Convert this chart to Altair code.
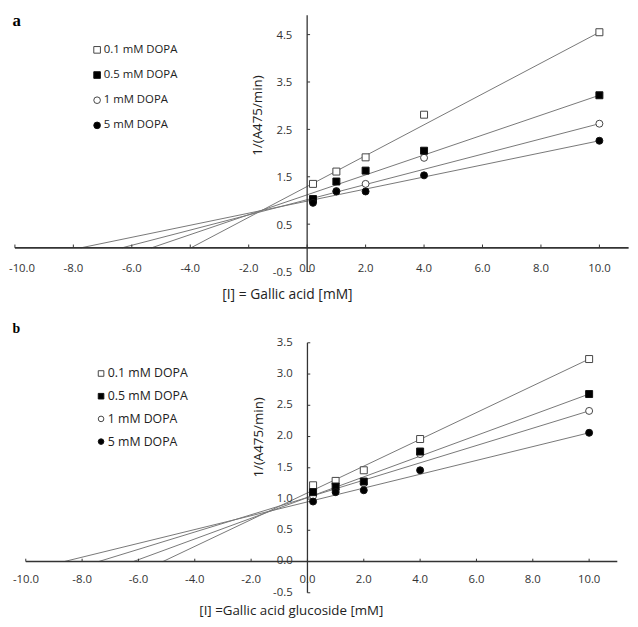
import altair as alt
import pandas as pd

# ---------------- data ----------------
CONC = ["0.1 mM DOPA", "0.5 mM DOPA", "1 mM DOPA", "5 mM DOPA"]
X_VALS = [0.2, 1, 2, 4, 10]

# panel a : Gallic acid
A_01 = [1.35, 1.61, 1.91, 2.81, 4.55]
A_05 = [1.03, 1.40, 1.63, 2.05, 3.22]
A_1 = [1.00, 1.20, 1.35, 1.90, 2.62]
A_5 = [0.95, 1.19, 1.19, 1.53, 2.26]
A_XINT = [-3.98, -5.33, -6.34, -7.75]   # x where each fitted line meets y = 0
A_Y10 = [4.55, 3.22, 2.62, 2.26]        # fitted line value at x = 10

# panel b : Gallic acid glucoside
B_01 = [1.22, 1.29, 1.46, 1.96, 3.24]
B_05 = [1.11, 1.20, 1.28, 1.76, 2.68]
B_1 = [1.05, 1.14, 1.25, 1.72, 2.41]
B_5 = [0.96, 1.11, 1.14, 1.46, 2.06]
B_XINT = [-5.13, -6.18, -7.41, -8.63]
B_Y10 = [3.24, 2.68, 2.41, 2.06]

X_TICKS = [-10, -8, -6, -4, -2, 0, 2, 4, 6, 8, 10]
X_TICK_LABELS = ["-10.0", "-8.0", "-6.0", "-4.0", "-2.0", "0.0", "2.0", "4.0", "6.0", "8.0", "10.0"]
A_Y_TICKS = [-0.5, 0.5, 1.5, 2.5, 3.5, 4.5]
A_Y_LABELS = ["-0.5", "0.5", "1.5", "2.5", "3.5", "4.5"]
B_Y_TICKS = [-0.5, 0.0, 0.5, 1.0, 1.5, 2.0, 2.5, 3.0, 3.5]
B_Y_LABELS = ["-0.5", "0.0", "0.5", "1.0", "1.5", "2.0", "2.5", "3.0", "3.5"]

FONT = "Open Sans"
TXT = "#333333"
LINE = "#777777"
AXIS = "#333333"
W = 630


def panel(letter, series, xint, y10, yticks, ylabels, y_top, x_title, g, leg):
    # scale domains from pixel geometry of the reference
    xmin = -g["x0"] / g["xpu"]
    xmax = (W - g["x0"]) / g["xpu"]
    ymax = g["y0"] / g["ypu"]
    ymin = (g["y0"] - g["H"]) / g["ypu"]
    sx = alt.Scale(domain=[xmin, xmax], nice=False, zero=False)
    sy = alt.Scale(domain=[ymin, ymax], nice=False, zero=False)

    def X(f):
        return alt.X(f, type="quantitative", scale=sx, axis=None)

    def Y(f):
        return alt.Y(f, type="quantitative", scale=sy, axis=None)

    def XD(v):
        return alt.X(datum=v, type="quantitative", scale=sx, axis=None)

    def YD(v):
        return alt.Y(datum=v, type="quantitative", scale=sy, axis=None)

    one = pd.DataFrame({"k": [0]})

    # points (1 mM drawn first so it sits underneath)
    order = [2, 0, 1, 3]
    rows = []
    for i in order:
        for xv, yv in zip(X_VALS, series[i]):
            rows.append({"conc": CONC[i], "x": xv, "y": yv})
    pts = pd.DataFrame(rows)

    fit = pd.DataFrame({"conc": CONC, "xint": xint, "y10": y10})

    xt = pd.DataFrame({"v": X_TICKS, "lab": X_TICK_LABELS})
    yt = pd.DataFrame({"v": yticks, "lab": ylabels})

    fits = alt.Chart(fit).mark_rule(color=LINE, strokeWidth=1).transform_calculate(
        y0="0", x1=str(X_VALS[-1])
    ).encode(x=X("xint"), y=Y("y0"), x2="x1:Q", y2="y10:Q")

    xaxis = alt.Chart(one).mark_rule(color=AXIS, strokeWidth=1.6).encode(
        x=XD(X_TICKS[0]), x2=alt.X2(datum=g["xend"]), y=YD(0)
    )
    yaxis = alt.Chart(one).mark_rule(color=AXIS, strokeWidth=1.3).encode(
        x=XD(0), y=YD(yticks[0]), y2=alt.Y2(datum=y_top)
    )
    xtick = alt.Chart(xt).mark_rule(color=AXIS, strokeWidth=1).encode(
        x=X("v"), y=YD(0), y2=alt.Y2(datum=g["xtl"])
    )
    ytick = alt.Chart(yt).mark_rule(color=AXIS, strokeWidth=1).encode(
        y=Y("v"), x=XD(0), x2=alt.X2(datum=g["ytl"])
    )
    xlab = alt.Chart(xt).mark_text(
        font=FONT, fontSize=11.5, color=TXT, baseline="middle", align="center", dy=g["xldy"]
    ).transform_filter(alt.datum.v > X_TICKS[0]).encode(x=X("v"), y=YD(0), text="lab:N")
    xlab0 = alt.Chart(xt).mark_text(
        font=FONT, fontSize=11.5, color=TXT, baseline="middle", align="left",
        dy=g["xldy"], dx=g["x0dx"]
    ).transform_filter(alt.datum.v == X_TICKS[0]).encode(x=X("v"), y=YD(0), text="lab:N")
    ylab = alt.Chart(yt).mark_text(
        font=FONT, fontSize=11.5, color=TXT, baseline="middle", align="right", dx=-15, dy=g["yldy"]
    ).encode(x=XD(0), y=Y("v"), text="lab:N")

    points = alt.Chart(pts).mark_point(
        opacity=1, size=50, strokeWidth=1, filled=False
    ).encode(
        x=X("x"),
        y=Y("y"),
        shape=alt.Shape("conc:N", sort=CONC,
                        scale=alt.Scale(domain=CONC, range=["square", "square", "circle", "circle"]),
                        legend=leg),
        fill=alt.Fill("conc:N", sort=CONC,
                      scale=alt.Scale(domain=CONC, range=["white", "black", "white", "black"]),
                      legend=leg),
        stroke=alt.Stroke("conc:N", sort=CONC,
                          scale=alt.Scale(domain=CONC, range=["#444444", "#111111", "#444444", "#111111"]),
                          legend=leg),
    )

    letter_t = alt.Chart(one).mark_text(
        font="Liberation Serif", fontWeight="bold", fontSize=g["lfs"], color="black",
        align="left", baseline="alphabetic"
    ).encode(x=alt.value(g["lx"]), y=alt.value(g["ly"]), text=alt.value(letter))

    ytitle = alt.Chart(one).mark_text(
        font=FONT, fontSize=13.5, color="#222222", angle=270, align="center", baseline="middle"
    ).encode(x=alt.value(g["ytx"]), y=alt.value(g["yty"]), text=alt.value("1/(A475/min)"))

    xtitle = alt.Chart(one).mark_text(
        font=FONT, fontSize=g["xtfs"], color="#222222", align="center", baseline="middle"
    ).encode(x=alt.value(g["xtx"]), y=alt.value(g["xty"]), text=alt.value(x_title))

    return alt.layer(
        fits, xlab, xlab0, ylab, xaxis, yaxis, xtick, ytick, points, letter_t, ytitle, xtitle
    ).properties(width=W, height=g["H"])


GA = dict(x0=303, xpu=29.6, y0=236, ypu=48, H=305, xend=11.0, xtl=0.07, ytl=0.1,
          xldy=21, x0dx=-6, yldy=1.5, lfs=17, lx=4.5, ly=11.5, ytx=253.5, yty=102,
          xtx=283, xty=284, xtfs=14)
GB = dict(x0=303.3, xpu=28.53, y0=248.7, ypu=63.3, H=306, xend=11.0, xtl=0.045, ytl=0.1,
          xldy=18.5, x0dx=-13, yldy=0, lfs=14, lx=4.5, ly=17.7, ytx=254, yty=123,
          xtx=287, xty=299, xtfs=13.5)

LEG_A = alt.Legend(title=None, orient="none", legendX=84.5, legendY=29.7, padding=0,
                   symbolSize=45, symbolStrokeWidth=1,
                   labelFont=FONT, labelFontSize=11.5, labelColor="#222222",
                   labelOffset=1, rowPadding=12.5)
LEG_B = alt.Legend(title=None, orient="none", legendX=88, legendY=52, padding=0,
                   symbolSize=32, symbolStrokeWidth=1,
                   labelFont=FONT, labelFontSize=12.5, labelColor="#222222",
                   labelOffset=0.5, rowPadding=10)

pa = panel("a", [A_01, A_05, A_1, A_5], A_XINT, A_Y10, A_Y_TICKS, A_Y_LABELS, 4.91,
           "[I] = Gallic acid [mM]", GA, LEG_A)
pb = panel("b", [B_01, B_05, B_1, B_5], B_XINT, B_Y10, B_Y_TICKS, B_Y_LABELS, 3.5,
           "[I] =Gallic acid glucoside [mM]", GB, LEG_B)

chart = alt.vconcat(pa, pb, spacing=0, bounds="flush").resolve_scale(
    x="independent", y="independent", shape="independent", fill="independent",
    stroke="independent"
).resolve_legend(shape="independent", fill="independent", stroke="independent").properties(
    padding=0
).configure_view(stroke=None)

chart.save("out.html", embed_options={"renderer": "svg", "actions": False})
